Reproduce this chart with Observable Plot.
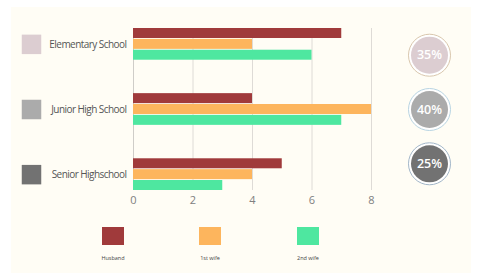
<!DOCTYPE html>
<html><head><meta charset="utf-8">
<script src="https://cdn.jsdelivr.net/npm/d3@7"></script>
<script src="https://cdn.jsdelivr.net/npm/@observablehq/plot@0.6"></script>
<style>
html,body{margin:0;padding:0;background:#fff;}
#wrap{position:relative;width:480px;height:278px;overflow:hidden;font-family:"Open Sans",sans-serif;}
#panel{position:absolute;left:11px;top:7px;width:460px;height:266px;background:#fffdf5;}
#chart{position:absolute;left:0;top:0;}
#chart g[fill="#555"] text{letter-spacing:-0.55px;}
.lg{position:absolute;top:227px;width:40px;text-align:center;}
.lg .sw{width:22px;height:18px;margin:0 auto;}
.lg .lb{font-size:5.5px;color:#444;margin-top:9px;}
</style></head>
<body>
<div id="wrap"><div id="panel"></div><div id="chart"></div>
<div id="legend"></div></div>
<script>
const categories = ["Elementary School", "Junior High School", "Senior Highschool"];
const series = ["Husband", "1st wife", "2nd wife"];
const husband = [7, 4, 5];
const firstWife = [4, 8, 4];
const secondWife = [6, 7, 3];
const shares = [35, 40, 25];
const xTicks = [0, 2, 4, 6, 8];
const seriesColors = ["#a03a3b", "#fdb55d", "#4ee7a0"];
const catColors = ["#dccdd1", "#ababab", "#727272"];
const ringColors = ["#d9c7ad", "#b8d4e2", "#a2b6c8"];

const values = [husband, firstWife, secondWife];
const rows = categories.flatMap((c, i) => series.map((s, j) => ({cat: c, series: s, value: values[j][i], key: c + "|" + s})));
const yDomain = categories.flatMap((c, i) => {
  const k = series.map(s => c + "|" + s);
  return i < categories.length - 1 ? k.concat([c + "|_a", c + "|_b", c + "|_c"]) : k;
});
const shareRow = ["2nd wife", "1st wife", "Husband"];

const marks = [
  Plot.ruleX(xTicks.filter(d => d > 0), {stroke: "#dedbd6", strokeWidth: 1}),
  Plot.ruleX([0], {stroke: "#cfcdc8", strokeWidth: 1}),
  Plot.barX(rows, {x: "value", y: "key", fill: "series"}),
  Plot.text(categories, {frameAnchor: "left", y: c => c + "|1st wife", text: d => d, textAnchor: "end", dx: -7, fill: "#555", fontSize: 10})
];
categories.forEach((c, i) => {
  marks.push(Plot.dot([c], {frameAnchor: "left", y: d => d + "|1st wife", dx: -102, symbol: "square", r: 11, fill: catColors[i]}));
  const row = c + "|" + shareRow[i];
  marks.push(Plot.dot([c], {frameAnchor: "right", y: () => row, dx: 58, r: 21, fill: "#fff", stroke: ringColors[i], strokeWidth: 1}));
  marks.push(Plot.dot([c], {frameAnchor: "right", y: () => row, dx: 58, r: 18.5, fill: catColors[i]}));
  marks.push(Plot.text([shares[i]], {frameAnchor: "right", y: () => row, dx: 58, textAnchor: "middle", text: d => d + "%", fill: "#fff", fontSize: 12.5, fontWeight: 600}));
});

const plot = Plot.plot({
  width: 480, height: 278,
  marginLeft: 133, marginRight: 109, marginTop: 28, marginBottom: 88,
  style: {background: "transparent", fontFamily: "Open Sans, sans-serif", fontSize: "11px", color: "#808080"},
  x: {domain: [0, 8], ticks: xTicks, tickSize: 0, tickPadding: 6, label: null},
  y: {domain: yDomain, axis: null, paddingInner: 0.079, paddingOuter: 0, round: false},
  color: {domain: series, range: seriesColors},
  marks
});
document.getElementById("chart").appendChild(plot);

const legendX = [93, 190, 288];
const lg = document.getElementById("legend");
series.forEach((s, i) => {
  const d = document.createElement("div");
  d.className = "lg";
  d.style.left = legendX[i] + "px";
  d.innerHTML = `<div class="sw" style="background:${seriesColors[i]}"></div><div class="lb">${s}</div>`;
  lg.appendChild(d);
});
</script>
</body></html>
